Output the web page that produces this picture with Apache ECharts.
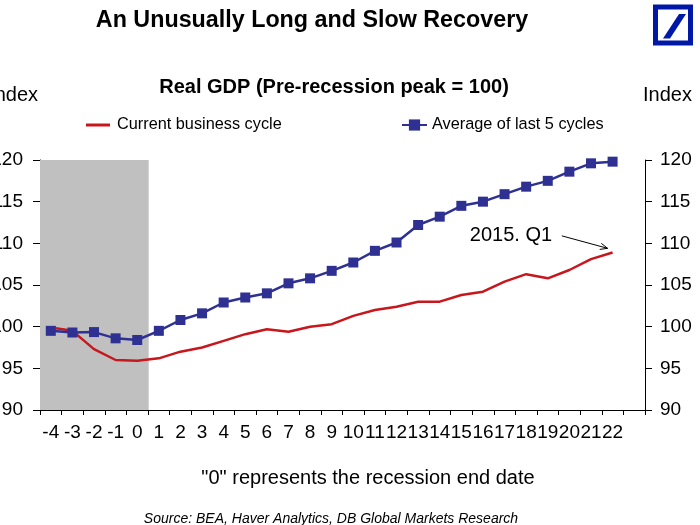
<!DOCTYPE html>
<html><head><meta charset="utf-8">
<script src="https://cdn.jsdelivr.net/npm/echarts@6/dist/echarts.min.js"></script>
<style>html,body{margin:0;padding:0;background:#fff}#c{width:700px;height:525px}</style>
</head><body><div id="c"></div>
<script>
const categories = ['-4','-3','-2','-1','0','1','2','3','4','5','6','7','8','9','10','11','12','13','14','15','16','17','18','19','20','21','22',''];
const currentCycle = [99.9, 99.5, 97.3, 96.0, 95.9, 96.2, 97.0, 97.5, 98.3, 99.1, 99.7, 99.4, 100.0, 100.3, 101.3, 102.0, 102.4, 103.0, 103.0, 103.8, 104.2, 105.4, 106.3, 105.8, 106.8, 108.1, 108.9];
const avgLast5 = [99.5, 99.3, 99.35, 98.6, 98.4, 99.5, 100.8, 101.6, 102.9, 103.5, 104.0, 105.2, 105.8, 106.7, 107.7, 109.1, 110.1, 112.2, 113.2, 114.5, 115.0, 115.9, 116.8, 117.5, 118.6, 119.6, 119.8];
const recessionBand = [120, 120, 120, 120, 120];
const yMin = 90, yMax = 120, yStep = 5;
const seriesNames = ['Current business cycle', 'Average of last 5 cycles'];
const annotationText = '2015. Q1';
const annotationTextAt = [23.2, 111.0];
const arrowFrom = [23.65, 110.9];
const arrowTo = [25.77, 109.4];

const FONT = '"Liberation Sans", Arial, sans-serif';
const chart = echarts.init(document.getElementById('c'), null, {renderer: 'canvas'});

const yAxisBase = {
  type: 'value', min: yMin, max: yMax, interval: yStep,
  splitLine: {show: false},
  axisLine: {show: true, lineStyle: {color: '#000', width: 1}},
  axisTick: {show: true, length: 7, lineStyle: {color: '#000'}},
  nameLocation: 'end',
  nameGap: 65,
};

chart.setOption({
  animation: false,
  backgroundColor: '#fff',
  textStyle: {fontFamily: FONT},
  title: [
    {text: 'An Unusually Long and Slow Recovery', left: 312, top: 9, textAlign: 'center', padding: 0,
     textStyle: {fontSize: 23.3, fontWeight: 'bold', color: '#000', fontFamily: FONT}},
    {text: 'Real GDP (Pre-recession peak = 100)', left: 334, top: 77, textAlign: 'center', padding: 0,
     textStyle: {fontSize: 20, fontWeight: 'bold', color: '#000', fontFamily: FONT}},
    {text: '"0" represents the recession end date', left: 368, top: 468, textAlign: 'center', padding: 0,
     textStyle: {fontSize: 20, fontWeight: 'normal', color: '#000', fontFamily: FONT}},
    {text: 'Source: BEA, Haver Analytics, DB Global Markets Research', left: 331, top: 512, textAlign: 'center', padding: 0,
     textStyle: {fontSize: 14, fontWeight: 'normal', fontStyle: 'italic', color: '#000', fontFamily: FONT}}
  ],
  legend: [
    {data: [{name: seriesNames[0], icon: 'rect'}], left: 86, top: 117, itemWidth: 24, itemHeight: 3, padding: 0,
     textStyle: {fontSize: 16.3, color: '#000', fontFamily: FONT, padding: [0, 0, 0, 2]}},
    {data: [seriesNames[1]], left: 401, top: 117, itemWidth: 25, itemHeight: 14, padding: 0,
     textStyle: {fontSize: 16.3, color: '#000', fontFamily: FONT}}
  ],
  grid: {left: 40, right: 55, top: 160, bottom: 115, containLabel: false, outerBoundsMode: 'none'},
  xAxis: {
    type: 'category', data: categories, boundaryGap: true,
    axisLine: {show: true, onZero: false, lineStyle: {color: '#000', width: 1}},
    axisTick: {show: true, length: 5, lineStyle: {color: '#000'}},
    axisLabel: {interval: 0, fontSize: 19, color: '#000', margin: 13, fontFamily: FONT, hideOverlap: false},
    splitLine: {show: false}
  },
  yAxis: [
    Object.assign({}, yAxisBase, {position: 'left', name: 'Index',
      nameTextStyle: {fontSize: 20, color: '#000', align: 'right', verticalAlign: 'middle', fontFamily: FONT, padding: [0, 2, 0, 0]},
      axisLabel: {fontSize: 19, color: '#000', margin: 17, fontFamily: FONT}}),
    Object.assign({}, yAxisBase, {position: 'right', name: 'Index',
      nameTextStyle: {fontSize: 20, color: '#000', align: 'left', verticalAlign: 'middle', fontFamily: FONT, padding: [0, 0, 0, -2]},
      axisLabel: {fontSize: 19, color: '#000', margin: 15, fontFamily: FONT}})
  ],
  series: [
    {name: 'Recession', type: 'bar', data: recessionBand, barWidth: '106%', silent: true, z: 0,
     clip: true, itemStyle: {color: '#c0c0c0'}},
    {name: seriesNames[0], type: 'line', data: currentCycle, symbol: 'none', z: 3,
     lineStyle: {color: '#c8161d', width: 2.5}, itemStyle: {color: '#c8161d'}},
    {name: seriesNames[1], type: 'line', data: avgLast5, symbol: 'rect', symbolSize: 10, showAllSymbol: true, z: 4,
     lineStyle: {color: '#2e3192', width: 2.5}, itemStyle: {color: '#2e3192'}}
  ]
});

function px(pt) {
  const i0 = Math.floor(pt[0]), f = pt[0] - i0;
  const a = chart.convertToPixel({xAxisIndex: 0, yAxisIndex: 0}, [i0, pt[1]]);
  const b = chart.convertToPixel({xAxisIndex: 0, yAxisIndex: 0}, [i0 + 1, pt[1]]);
  return [a[0] + f * (b[0] - a[0]), a[1]];
}
const tA = px(annotationTextAt), aF = px(arrowFrom), aT = px(arrowTo);
const ang = Math.atan2(aT[1] - aF[1], aT[0] - aF[0]);
const hl = 8, hw = 0.4;
const head = [
  [aT[0] - hl * Math.cos(ang - hw), aT[1] - hl * Math.sin(ang - hw)],
  [aT[0], aT[1]],
  [aT[0] - hl * Math.cos(ang + hw), aT[1] - hl * Math.sin(ang + hw)]
];

chart.setOption({
  graphic: [
    {type: 'text', x: tA[0], y: tA[1], style: {text: annotationText, fontSize: 20, fill: '#000', align: 'right', verticalAlign: 'middle', fontFamily: FONT}, z: 10},
    {type: 'line', shape: {x1: aF[0], y1: aF[1], x2: aT[0], y2: aT[1]}, style: {stroke: '#000', lineWidth: 1}, z: 10},
    {type: 'polyline', shape: {points: head}, style: {stroke: '#000', lineWidth: 1, fill: null}, z: 10},
    {type: 'rect', shape: {x: 655.5, y: 7, width: 35, height: 36}, style: {fill: '#fff', stroke: '#0018a8', lineWidth: 5}, z: 10},
    {type: 'polygon', shape: {points: [[663, 38.5], [670, 38.5], [686, 14], [679, 14]]}, style: {fill: '#0018a8'}, z: 10}
  ]
});
</script>
</body></html>
